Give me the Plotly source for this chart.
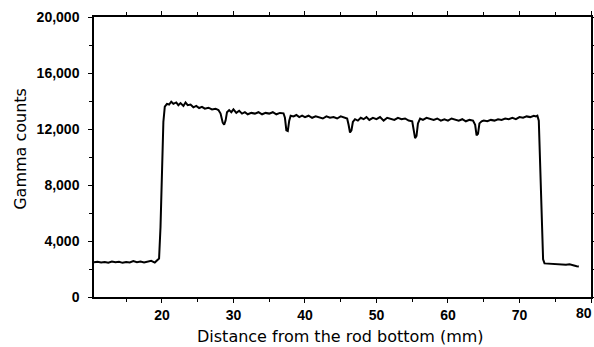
import plotly.graph_objects as go

distance_mm = [
    10.5, 11, 11.5, 12, 12.5, 13, 13.5, 14, 14.5, 15, 15.5, 16, 16.5, 17, 17.5, 18, 18.5, 19, 19.3, 19.6,
    19.8, 20.0, 20.2, 20.4, 20.7, 21, 21.3, 21.6, 22, 22.3, 22.6, 23, 23.3, 23.6, 24, 24.4, 24.8, 25.2, 25.6, 26,
    26.5, 27, 27.5, 27.9, 28.2, 28.5, 28.7, 28.9, 29.1, 29.4, 29.7, 30, 30.4, 30.8, 31.2, 31.6, 32, 32.5, 33, 33.5,
    34, 34.5, 35, 35.5, 36, 36.5, 37, 37.2, 37.4, 37.6, 37.8, 38, 38.4, 38.8, 39.2, 39.6, 40, 40.5, 41, 41.5,
    42, 42.5, 43, 43.5, 44, 44.5, 45, 45.5, 45.9, 46.1, 46.3, 46.5, 46.7, 47, 47.4, 47.8, 48.2, 48.6, 49, 49.5,
    50, 50.5, 51, 51.5, 52, 52.5, 53, 53.5, 54, 54.5, 55, 55.2, 55.4, 55.6, 55.8, 56.1, 56.5, 57, 57.5, 58,
    58.5, 59, 59.5, 60, 60.5, 61, 61.5, 62, 62.5, 63, 63.5, 63.8, 64.0, 64.2, 64.4, 64.7, 65, 65.5, 66, 66.5,
    67, 67.5, 68, 68.5, 69, 69.5, 70, 70.5, 71, 71.5, 72, 72.3, 72.5, 72.7, 72.9, 73.1, 73.3, 73.5, 74, 74.5,
    75, 75.5, 76, 76.5, 77, 77.5, 78, 78.3,
]
gamma_counts = [
    2480, 2520, 2470, 2500, 2450, 2530, 2480, 2510, 2440, 2500, 2470, 2560, 2490, 2530, 2460, 2510, 2580, 2460, 2600, 2750,
    5000, 9000, 12500, 13600, 13800, 13750, 13950, 13800, 13900, 13700, 13850, 13650, 13900, 13700, 13750, 13550, 13650, 13500, 13580, 13450,
    13520, 13400, 13450, 13350, 13100, 12450, 12300, 12600, 13200, 13350, 13200, 13400, 13150, 13300, 13100, 13200, 13050, 13150, 13100, 13200,
    13050, 13150, 13100, 13200, 13050, 13150, 13120, 12800, 11900, 11850, 12600, 12950, 12900, 13000, 12850, 12950, 12850, 12950, 12800, 12900,
    12850, 12750, 12900, 12800, 12850, 12750, 12900, 12800, 12750, 12300, 11750, 11900, 12500, 12700, 12600, 12800, 12700, 12850, 12650, 12800,
    12700, 12850, 12600, 12800, 12750, 12650, 12800, 12700, 12750, 12600, 12550, 12000, 11350, 11500, 12400, 12750, 12650, 12800, 12700, 12650,
    12750, 12600, 12700, 12600, 12750, 12650, 12600, 12700, 12550, 12650, 12600, 12300, 11550, 11650, 12400, 12550, 12600, 12550, 12650, 12600,
    12700, 12650, 12750, 12700, 12800, 12700, 12850, 12800, 12900, 12850, 12950, 12900, 12950, 12600, 9000, 5000, 2700, 2400, 2380, 2350,
    2370, 2320, 2340, 2300, 2330, 2250, 2200, 2180,
]

x_tick_vals = [20, 30, 40, 50, 60, 70, 80]
x_tick_text = ["20", "30", "40", "50", "60", "70", ""]
last_x_label = "80"
y_tick_vals = [0, 4000, 8000, 12000, 16000, 20000]
y_tick_text = ["0", "4,000", "8,000", "12,000", "16,000", "20,000"]
x_title = "Distance from the rod bottom (mm)"
y_title = "Gamma counts"

fig = go.Figure()
fig.add_trace(go.Scatter(
    x=distance_mm, y=gamma_counts, mode="lines",
    line=dict(color="black", width=2), showlegend=False,
))

tick_font = dict(family="Liberation Sans", size=14, color="black", weight="bold")
title_font = dict(family="DejaVu Sans", size=16, color="black")

fig.update_layout(
    width=594, height=347,
    margin=dict(l=94, r=3, t=17, b=50),
    paper_bgcolor="white", plot_bgcolor="white",
    xaxis=dict(
        range=[10.5, 80], tickvals=x_tick_vals, ticktext=x_tick_text, ticks="outside", ticklen=4, tickwidth=1,
        tickcolor="black", showline=True, linecolor="black", linewidth=1.5, mirror="ticks",
        showgrid=False, zeroline=False, tickfont=tick_font, automargin=False,
        minor=dict(tickvals=[15, 25, 35, 45, 55, 65, 75], ticks="outside", ticklen=3, tickcolor="black"),
    ),
    yaxis=dict(
        range=[0, 20000], tickvals=y_tick_vals, ticktext=y_tick_text, ticks="outside", ticklen=4, tickwidth=1,
        tickcolor="black", showline=True, linecolor="black", linewidth=1.5, mirror="ticks",
        showgrid=False, zeroline=False, tickfont=tick_font, ticklabelstandoff=6, automargin=False,
        minor=dict(tickvals=[2000, 6000, 10000, 14000, 18000], ticks="outside", ticklen=3, tickcolor="black"),
    ),
    annotations=[
        dict(text=last_x_label, xref="x", yref="paper", x=x_tick_vals[-1], y=0,
             xanchor="right", yanchor="top", xshift=3, yshift=-6, showarrow=False, font=tick_font),
        dict(text=x_title, xref="paper", yref="paper", x=0.495, y=-0.142,
             xanchor="center", yanchor="middle", showarrow=False, font=title_font),
        dict(text=y_title, xref="paper", yref="paper", x=-0.147, y=0.529, textangle=-90,
             xanchor="center", yanchor="middle", showarrow=False, font=title_font),
    ],
)

fig.write_html("out.html")
